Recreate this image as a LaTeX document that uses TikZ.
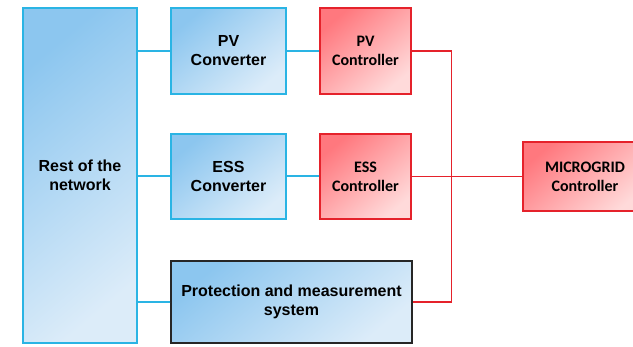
\documentclass[tikz,border=0pt]{standalone}
\usepackage{fontspec}
\setmainfont{Liberation Sans}
\newfontfamily\calibri{Carlito}
\usetikzlibrary{calc}

\definecolor{bluedark}{HTML}{8CC6EF}
\definecolor{bluelight}{HTML}{DCECF9}
\definecolor{blueline}{HTML}{2AB4E4}
\definecolor{reddark}{HTML}{FF787E}
\definecolor{redlight}{HTML}{FFDADA}
\definecolor{redline}{HTML}{E5222B}

\begin{document}
\begin{tikzpicture}[x=1pt, y=-1pt,
                    block/.style={draw=blueline, line width=1.4pt, shade, top color=bluedark,
                                  bottom color=bluelight, shading angle=40, align=center,
                                  font=\fontsize{16}{19}\selectfont\bfseries, inner sep=0pt},
                    ctrl/.style={draw=redline, line width=1.4pt, shade, top color=reddark,
                                 bottom color=redlight, shading angle=40, align=center,
                                 font=\fontsize{16}{19}\selectfont\calibri\bfseries, inner sep=0pt},
                    power/.style={blueline, line width=2pt},
                    signal/.style={redline, line width=1.4pt}]

            \useasboundingbox (0,0) rectangle (633,347);
            \clip (0,0) rectangle (633,347);

            \node[block, minimum width=114pt, minimum height=335pt] (rest) at (80,175.5) {Rest of the\\network};

            \node[block, minimum width=115pt, minimum height=86pt] (pvconv)  at (228.5,51)  {PV\\Converter};
            \node[block, minimum width=115pt, minimum height=85pt] (essconv) at (228.5,176.5) {ESS\\Converter};
            \node[block, draw=black!85, minimum width=241pt, minimum height=82pt] (prot) at (291.5,302)
                {Protection and measurement\\system};

            \node[ctrl, minimum width=91pt, minimum height=86pt] (pvctrl)  at (365.5,51)    {PV\\Controller};
            \node[ctrl, minimum width=91pt, minimum height=85pt] (essctrl) at (365.5,176.5) {ESS\\Controller};
            \node[ctrl, minimum width=124pt, minimum height=69pt] (micro)  at (585,176.5)   {MICROGRID\\Controller};

            \draw[power] (pvconv.west)  -- (pvconv.west -| rest.east);
            \draw[power] (essconv.west) -- (essconv.west -| rest.east);
            \draw[power] (prot.west)    -- (prot.west -| rest.east);
            \draw[power] (pvconv)  -- (pvctrl);
            \draw[power] (essconv) -- (essctrl);

            \coordinate (bus) at ($(pvctrl.east)+(40,0)$);
            \draw[signal] (pvctrl.east) -- (bus) |- (prot.east);
            \draw[signal] (essctrl.east) -- (micro.west);
        \end{tikzpicture}
\end{document}
